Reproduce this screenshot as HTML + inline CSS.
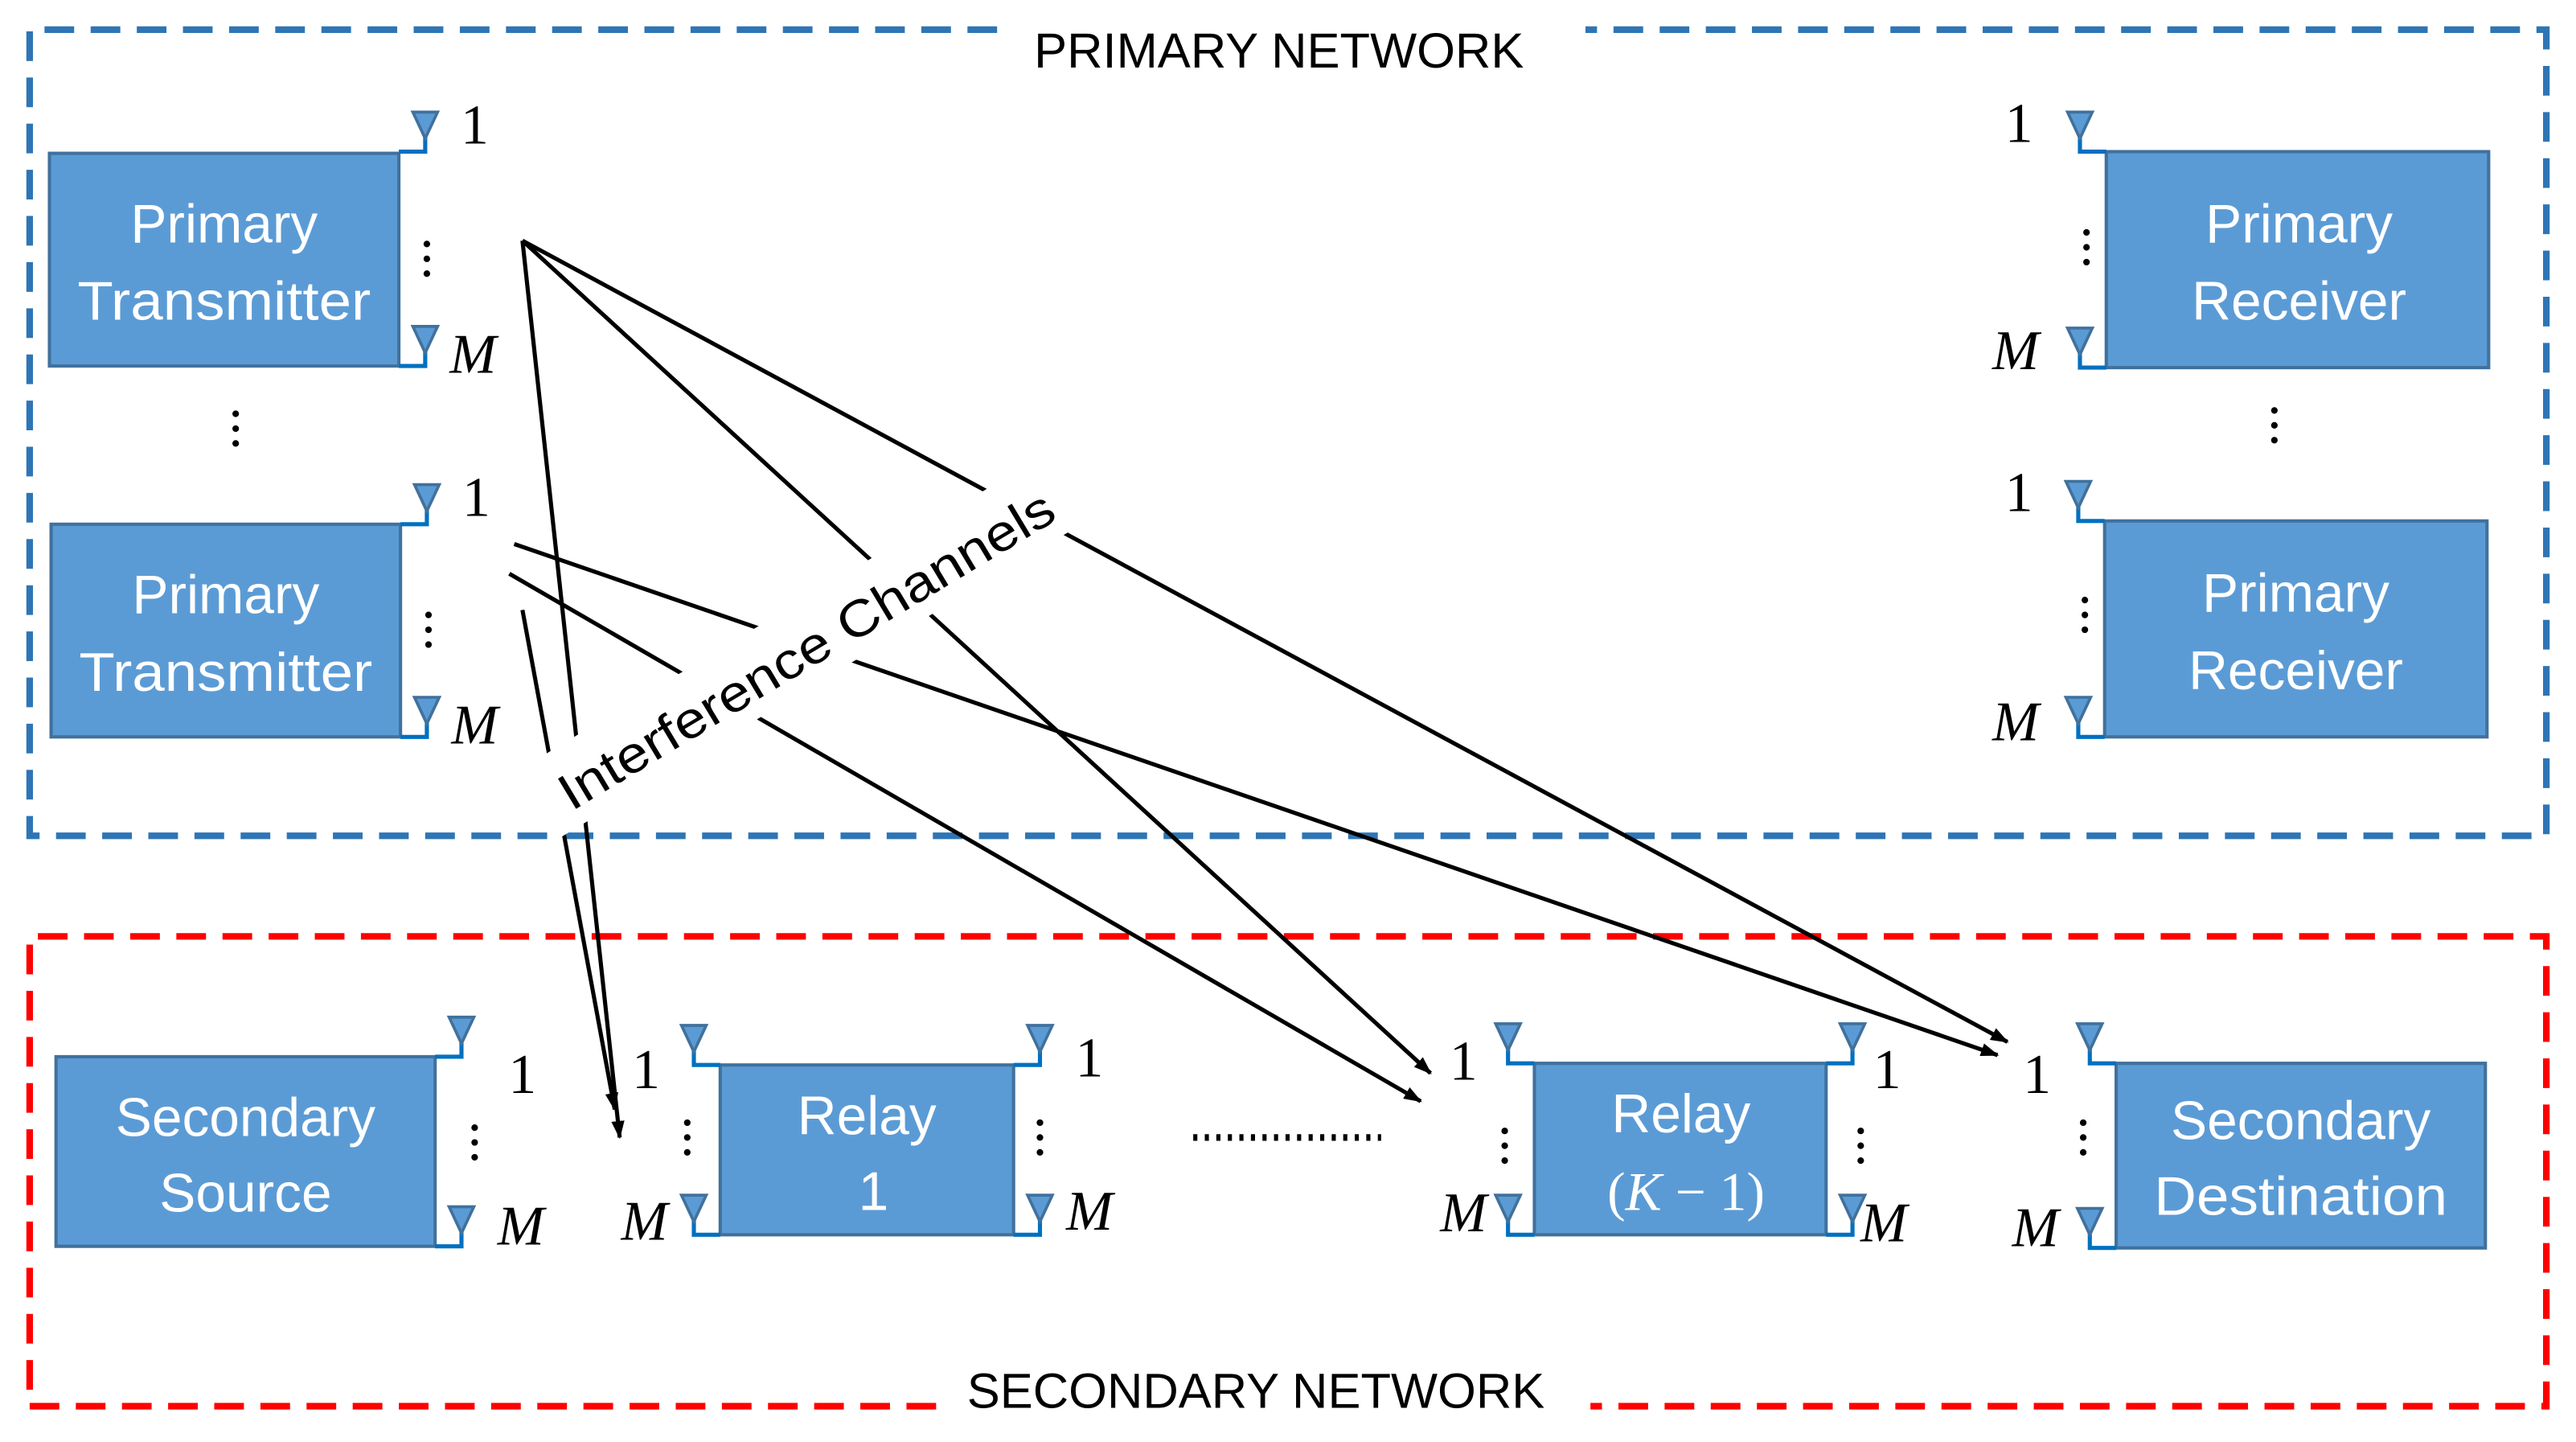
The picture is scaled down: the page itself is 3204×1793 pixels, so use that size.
<!DOCTYPE html>
<html><head><meta charset="utf-8"><style>html,body{margin:0;padding:0;background:#fff}svg{display:block}</style></head><body>
<svg width="3204" height="1793" viewBox="0 0 1563 874.7" preserveAspectRatio="none" xmlns="http://www.w3.org/2000/svg">
<defs>
<g id="a"><path d="M-16 0H0V-11" stroke="#0070c0" stroke-width="2.5" fill="none"/><polygon points="-7.5,-24 7.5,-24 0,-8" fill="#5b9bd5" stroke="#41719c" stroke-width="1.8"/></g>
<g id="d"><circle cx="0" cy="-9" r="2"/><circle cx="0" cy="0" r="2"/><circle cx="0" cy="9" r="2"/></g>
<marker id="ar" markerWidth="11" markerHeight="8" refX="10" refY="4" orient="auto" markerUnits="userSpaceOnUse"><polygon points="0,0 11,4 0,8" fill="#000"/></marker>
</defs>
<rect width="1563" height="875" fill="#fff"/>
<g fill="none" stroke="#2e75b6" stroke-width="4" stroke-dasharray="18 10">
<path d="M605 18H18V507H1545V18H962"/>
</g>
<g fill="none" stroke="#ff0000" stroke-width="4" stroke-dasharray="18 10">
<path d="M568 853H18V568H1545V853H965"/>
</g>
<g font-family="Liberation Sans, sans-serif" font-size="30" fill="#000" text-anchor="middle">
<text x="776" y="41">PRIMARY NETWORK</text>
<text x="762" y="854">SECONDARY NETWORK</text>
</g>
<g fill="#5b9bd5" stroke="#41719c" stroke-width="2">
<rect x="30" y="93" width="212" height="129"/>
<rect x="31" y="318" width="212" height="129"/>
<rect x="1278" y="92" width="232" height="131"/>
<rect x="1277" y="316" width="232" height="131"/>
<rect x="34" y="641" width="230" height="115"/>
<rect x="437" y="646" width="178" height="103"/>
<rect x="931" y="645" width="177" height="104"/>
<rect x="1284" y="645" width="224" height="112"/>
</g>
<g font-family="Liberation Sans, sans-serif" font-size="33" fill="#fff" text-anchor="middle">
<text x="136" y="147">Primary</text><text x="136" y="194" textLength="178" lengthAdjust="spacingAndGlyphs">Transmitter</text>
<text x="137" y="372">Primary</text><text x="137" y="419" textLength="178" lengthAdjust="spacingAndGlyphs">Transmitter</text>
<text x="1395" y="147">Primary</text><text x="1395" y="194">Receiver</text>
<text x="1393" y="371">Primary</text><text x="1393" y="418">Receiver</text>
<text x="149" y="689">Secondary</text><text x="149" y="735">Source</text>
<text x="526" y="688">Relay</text><text x="530" y="734">1</text>
<text x="1020" y="687">Relay</text>
<text x="1396" y="691">Secondary</text><text x="1396" y="737" textLength="178" lengthAdjust="spacingAndGlyphs">Destination</text>
</g>
<text x="1023" y="734" font-family="Liberation Serif, serif" font-size="33" fill="#fff" text-anchor="middle">(<tspan font-style="italic">K</tspan> − 1)</text>
<use href="#a" transform="translate(258,92)"/><use href="#a" transform="translate(258,222)"/>
<use href="#a" transform="translate(259,318)"/><use href="#a" transform="translate(259,447)"/>
<use href="#a" transform="translate(1262,92) scale(-1,1)"/><use href="#a" transform="translate(1262,223) scale(-1,1)"/>
<use href="#a" transform="translate(1261,316) scale(-1,1)"/><use href="#a" transform="translate(1261,447) scale(-1,1)"/>
<use href="#a" transform="translate(280,641)"/><use href="#a" transform="translate(280,756)"/>
<use href="#a" transform="translate(421,646) scale(-1,1)"/><use href="#a" transform="translate(421,749) scale(-1,1)"/>
<use href="#a" transform="translate(631,646)"/><use href="#a" transform="translate(631,749)"/>
<use href="#a" transform="translate(915,645) scale(-1,1)"/><use href="#a" transform="translate(915,749) scale(-1,1)"/>
<use href="#a" transform="translate(1124,645)"/><use href="#a" transform="translate(1124,749)"/>
<use href="#a" transform="translate(1268,645) scale(-1,1)"/><use href="#a" transform="translate(1268,757) scale(-1,1)"/>
<g fill="#000">
<use href="#d" transform="translate(259,157)"/><use href="#d" transform="translate(260,382)"/>
<use href="#d" transform="translate(143,260)"/>
<use href="#d" transform="translate(1266,150)"/><use href="#d" transform="translate(1265,373)"/>
<use href="#d" transform="translate(1380,258)"/>
<use href="#d" transform="translate(288,693)"/>
<use href="#d" transform="translate(417,690)"/><use href="#d" transform="translate(631,690)"/>
<use href="#d" transform="translate(913,695)"/><use href="#d" transform="translate(1129,695)"/>
<use href="#d" transform="translate(1264,690)"/>
</g>
<path d="M724 690H838" stroke="#000" stroke-width="4" stroke-dasharray="2.5 4.5"/>
<g font-family="Liberation Serif, serif" font-size="34" fill="#000" text-anchor="middle">
<text x="288" y="87">1</text><text x="289" y="313">1</text>
<text x="1225" y="86">1</text><text x="1225" y="310">1</text>
<text x="317" y="663">1</text><text x="392" y="660">1</text><text x="661" y="653">1</text>
<text x="888" y="655">1</text><text x="1145" y="660">1</text><text x="1236" y="663">1</text>
</g>
<g font-family="Liberation Serif, serif" font-size="34" font-style="italic" fill="#000" text-anchor="middle">
<text x="287" y="226">M</text><text x="288" y="451">M</text>
<text x="1223" y="224">M</text><text x="1223" y="449">M</text>
<text x="316" y="755">M</text><text x="391" y="752">M</text><text x="661" y="746">M</text>
<text x="888" y="747">M</text><text x="1143" y="753">M</text><text x="1235" y="756">M</text>
</g>
<g stroke="#000" stroke-width="2.5" fill="none" marker-end="url(#ar)">
<line x1="317" y1="146" x2="376" y2="690"/>
<line x1="317" y1="146" x2="868" y2="651"/>
<line x1="317" y1="146" x2="1218" y2="632"/>
<line x1="312" y1="330" x2="1212" y2="640"/>
<line x1="309" y1="348" x2="862" y2="668"/>
<line x1="317" y1="370" x2="373" y2="673"/>
</g>
<g transform="translate(489,394) rotate(-31)">
<rect x="-188" y="-27" width="376" height="48" fill="#fff"/>
<text x="0" y="11" font-family="Liberation Sans, sans-serif" font-size="31" text-anchor="middle" textLength="345" lengthAdjust="spacingAndGlyphs">Interference Channels</text>
</g>
</svg>
</body></html>
